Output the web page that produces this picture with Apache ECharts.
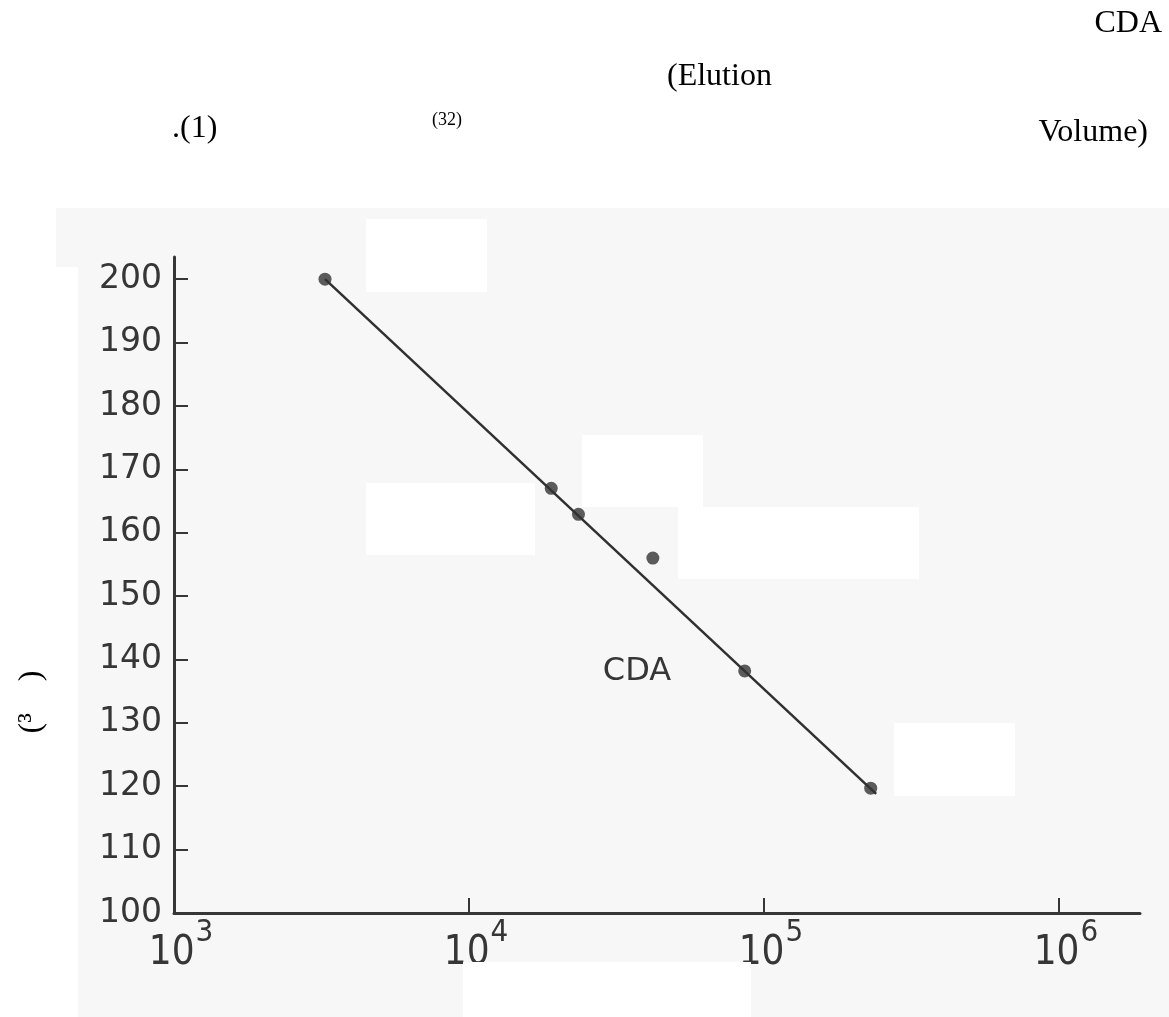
<!DOCTYPE html>
<html>
<head>
<meta charset="utf-8">
<script src="https://cdn.jsdelivr.net/npm/echarts@6/dist/echarts.min.js"></script>
<style>
html,body{margin:0;padding:0;background:#ffffff;}
#chart{width:1169px;height:1017px;}
</style>
</head>
<body>
<div id="chart"></div>
<script>
// ---- data ----
var molWeight = [3250, 19000, 23500, 42000, 86000, 230000];      // x (log scale)
var elutionVol = [200, 167.0, 162.9, 156.0, 138.2, 119.7];        // y
var fitLineX = [3250, 240000];
var fitLineY = [200, 118.8];
var yTicks = [100, 110, 120, 130, 140, 150, 160, 170, 180, 190, 200];
var xLabelTicks = [1000, 10000, 100000, 1000000];
var xMarkTicks = [10000, 100000, 1000000];
var curveLabel = 'CDA';

var chart = echarts.init(document.getElementById('chart'), null, {renderer: 'canvas'});

var ink = '#363636';
var scanBg = '#f7f7f7';

var option = {
  backgroundColor: '#ffffff',
  animation: false,
  grid: {left: 174, top: 257, right: 29, bottom: 104, containLabel: false, outerBoundsMode: 'none'},
  xAxis: {
    type: 'log', logBase: 10, min: 1000, max: 1882000,
    axisLine: {show: true, lineStyle: {color: ink, width: 3}},
    axisTick: {show: true, inside: true, length: 15, customValues: xMarkTicks, lineStyle: {color: ink, width: 2}},
    axisLabel: {
      show: true, customValues: xLabelTicks, margin: 4,
      formatter: function (v) {
        var e = Math.round(Math.log(v) / Math.LN10);
        return '{b|10}{s|' + e + '}';
      },
      rich: {
        b: {fontSize: 40, fontFamily: 'DejaVu Sans Condensed, DejaVu Sans', color: ink, verticalAlign: 'bottom', lineHeight: 52, padding: [0, 0, 0, 14]},
        s: {fontSize: 31, fontFamily: 'DejaVu Sans Condensed, DejaVu Sans', color: ink, verticalAlign: 'bottom', padding: [0, 0, 26, 1]}
      }
    },
    splitLine: {show: false}
  },
  yAxis: {
    type: 'value', min: 100, max: 203.5,
    axisLine: {show: true, lineStyle: {color: ink, width: 3}},
    axisTick: {show: true, inside: true, length: 14, customValues: yTicks, lineStyle: {color: ink, width: 2}},
    axisLabel: {show: true, customValues: yTicks, margin: 12, fontSize: 33, fontFamily: 'DejaVu Sans', color: ink},
    splitLine: {show: false}
  },
  series: [
    {
      type: 'line', data: fitLineX.map(function (x, i) { return [x, fitLineY[i]]; }),
      symbol: 'none', lineStyle: {color: '#303030', width: 2.5}, z: 2, silent: true
    },
    {
      type: 'scatter', data: molWeight.map(function (x, i) { return [x, elutionVol[i]]; }),
      symbol: 'circle', symbolSize: 13, itemStyle: {color: '#333333'}, z: 3
    }
  ],
  graphic: [
    // scanned page background
    {type: 'rect', z: -100, shape: {x: 78, y: 208, width: 1091, height: 809}, style: {fill: scanBg}, silent: true},
    {type: 'rect', z: -100, shape: {x: 56, y: 208, width: 22, height: 59}, style: {fill: scanBg}, silent: true},
    // white masks
    {type: 'rect', z: 100, shape: {x: 366, y: 219, width: 121, height: 73}, style: {fill: '#ffffff'}, silent: true},
    {type: 'rect', z: 100, shape: {x: 366, y: 483, width: 169, height: 72}, style: {fill: '#ffffff'}, silent: true},
    {type: 'rect', z: 100, shape: {x: 582, y: 435, width: 121, height: 72}, style: {fill: '#ffffff'}, silent: true},
    {type: 'rect', z: 100, shape: {x: 678, y: 507, width: 241, height: 72}, style: {fill: '#ffffff'}, silent: true},
    {type: 'rect', z: 100, shape: {x: 894, y: 723, width: 121, height: 73}, style: {fill: '#ffffff'}, silent: true},
    {type: 'rect', z: 100, shape: {x: 463, y: 962, width: 288, height: 55}, style: {fill: '#ffffff'}, silent: true},
    // in-plot label
    {type: 'text', z: 50, x: 637, y: 672, style: {text: curveLabel, font: '32px "DejaVu Sans"', fill: ink, align: 'center', verticalAlign: 'middle'}},
    // page text above the figure
    {type: 'text', z: 50, x: 1162, y: 24, style: {text: 'CDA', font: '32px "Liberation Serif"', fill: '#000', align: 'right', verticalAlign: 'middle'}},
    {type: 'text', z: 50, x: 667, y: 77, style: {text: '(Elution', font: '32px "Liberation Serif"', fill: '#000', align: 'left', verticalAlign: 'middle'}},
    {type: 'text', z: 50, x: 172, y: 129, style: {text: '.(1)', font: '32px "Liberation Serif"', fill: '#000', align: 'left', verticalAlign: 'middle'}},
    {type: 'text', z: 50, x: 432, y: 120, style: {text: '(32)', font: '18px "Liberation Serif"', fill: '#000', align: 'left', verticalAlign: 'middle'}},
    {type: 'text', z: 50, x: 1148, y: 133, style: {text: 'Volume)', font: '32px "Liberation Serif"', fill: '#000', align: 'right', verticalAlign: 'middle'}},
    // rotated y-axis title remnant
    {type: 'text', z: 50, x: 32, y: 702, rotation: Math.PI / 2, style: {text: '(\u00b3    )', font: '32px "Liberation Serif"', fill: '#000', align: 'center', verticalAlign: 'middle'}}
  ]
};
chart.setOption(option);
</script>
</body>
</html>
